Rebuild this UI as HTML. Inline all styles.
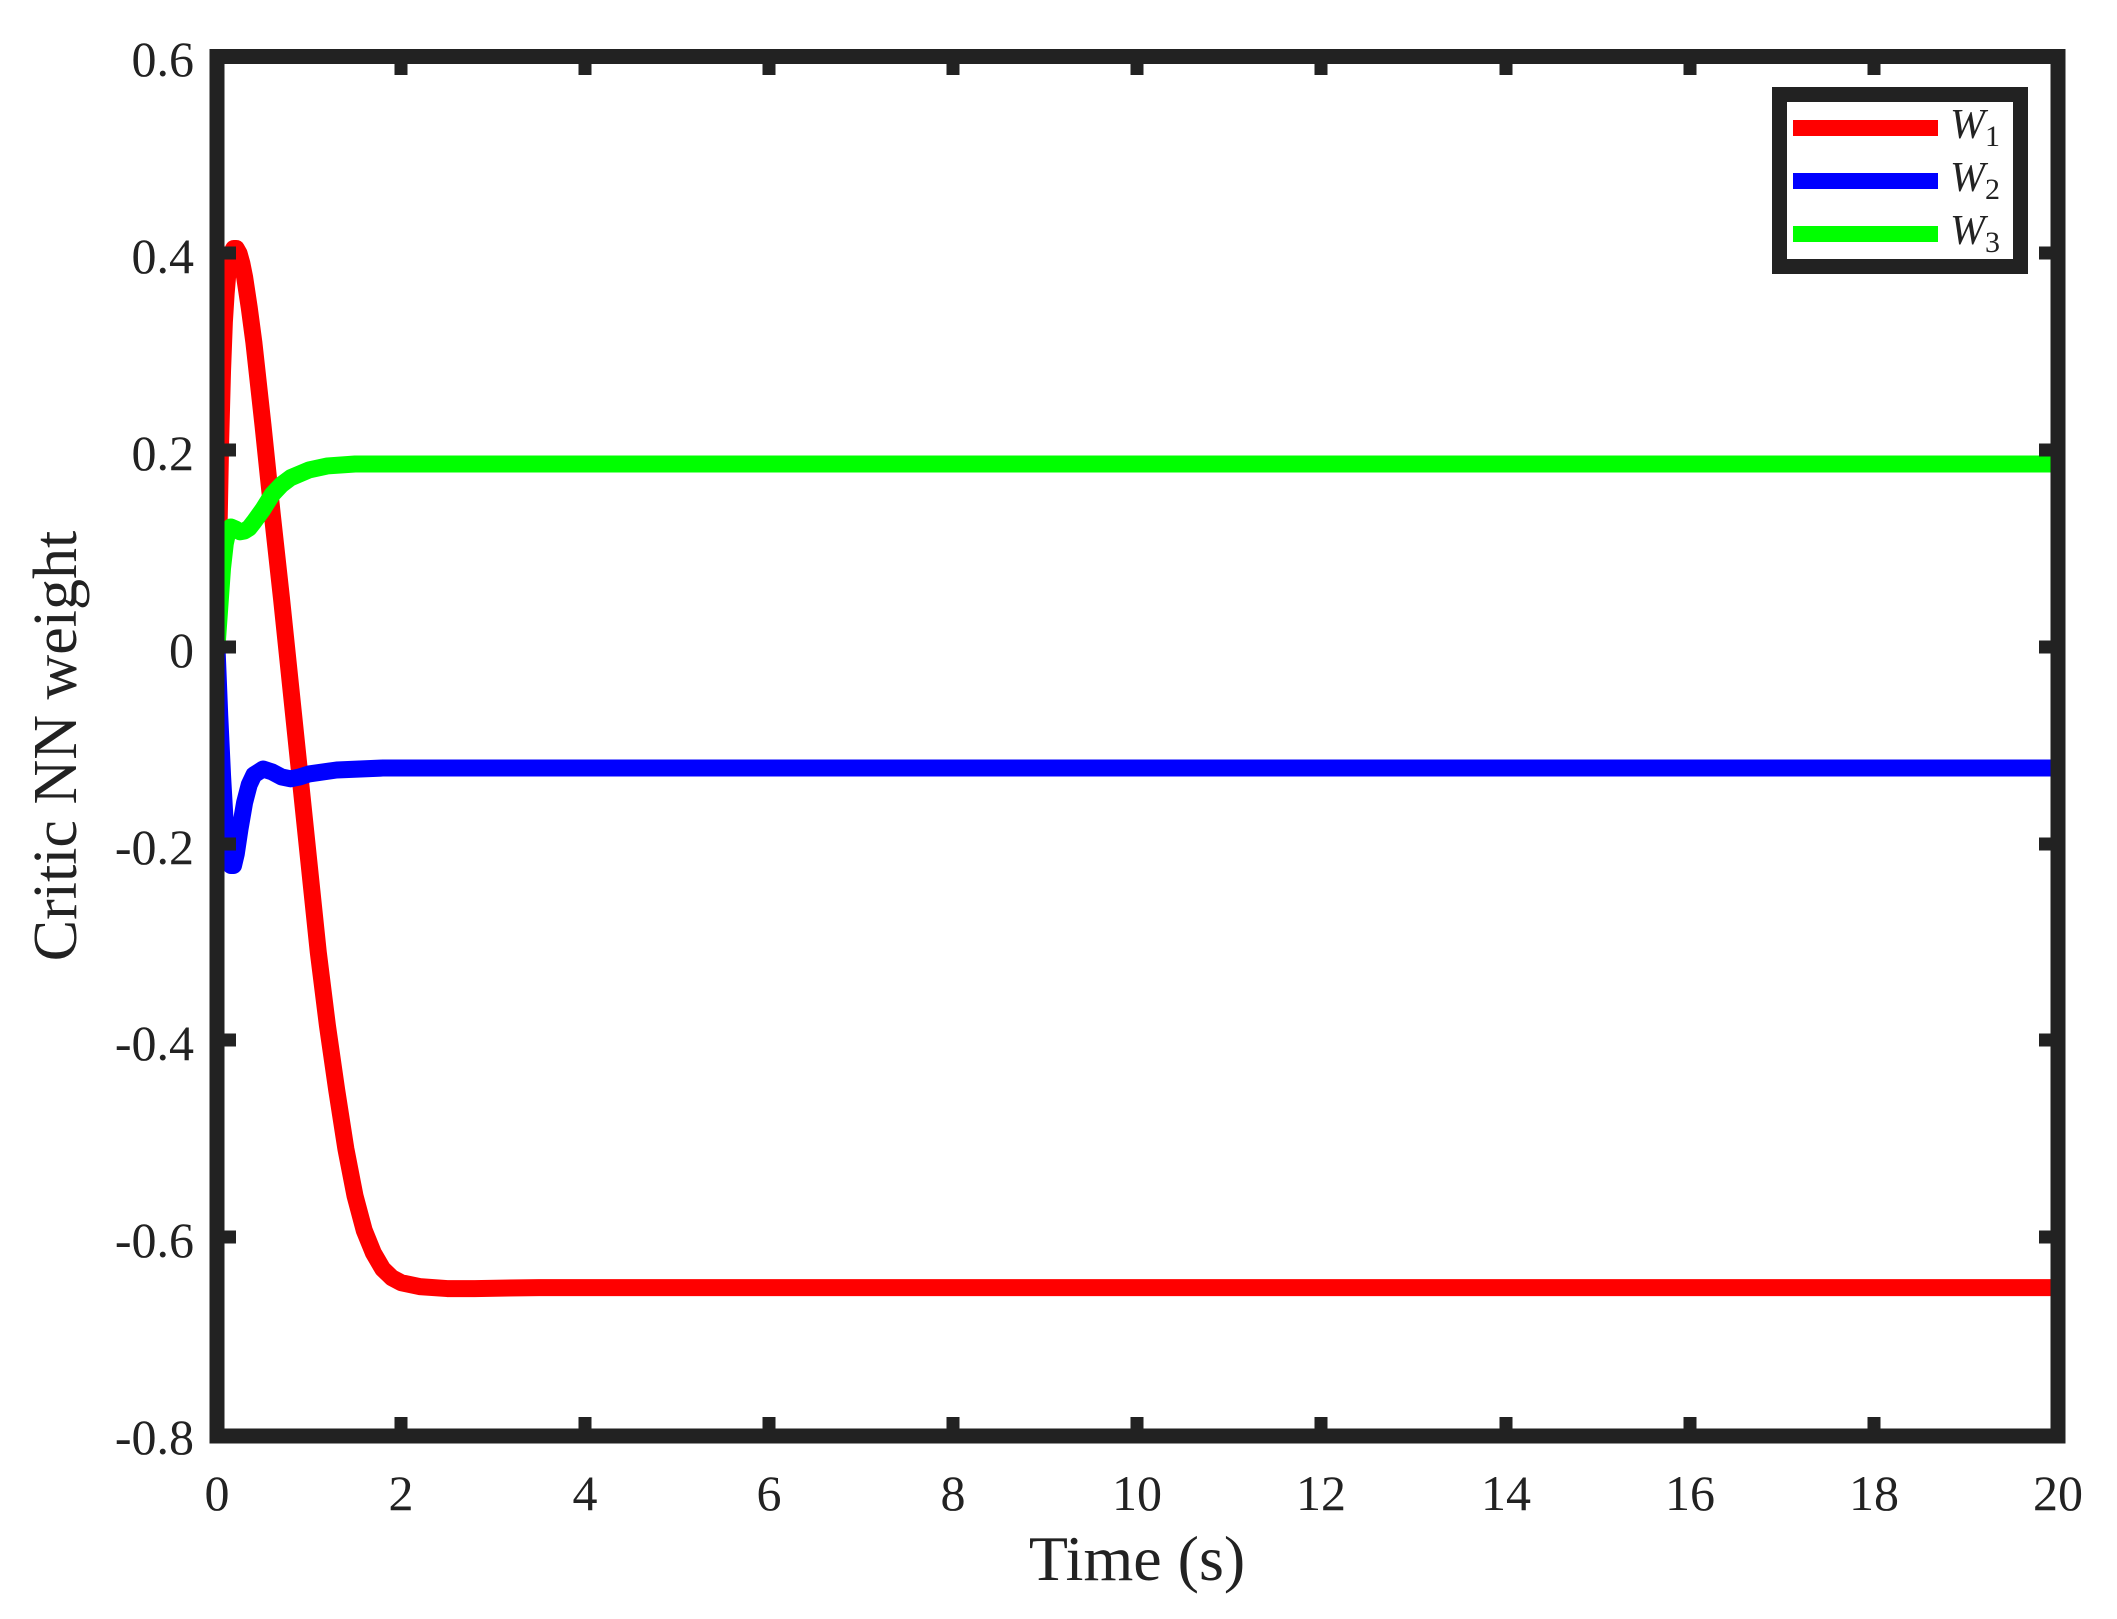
<!DOCTYPE html>
<html><head><style>
html,body{margin:0;padding:0;background:#fff;}
svg{display:block;}
text{font-family:"Liberation Serif",serif;fill:#222;}
</style></head><body>
<svg width="2117" height="1619" viewBox="0 0 2117 1619" xmlns="http://www.w3.org/2000/svg">
<defs><clipPath id="c"><rect x="217" y="56" width="1841" height="1380"/></clipPath></defs>
<g clip-path="url(#c)" fill="none" stroke-linejoin="round" stroke-linecap="round">
<g transform="matrix(92.05,0,0,-984,217,647)">
<polyline vector-effect="non-scaling-stroke" stroke="#ff0000" stroke-width="17" points="0,0 0.02,0.11 0.04,0.21 0.06,0.28 0.08,0.33 0.1,0.36 0.12,0.382 0.15,0.398 0.18,0.405 0.21,0.405 0.24,0.4 0.27,0.39 0.3,0.376 0.35,0.345 0.4,0.31 0.5,0.225 0.6,0.135 0.7,0.05 0.8,-0.04 0.9,-0.13 1.0,-0.22 1.1,-0.31 1.2,-0.385 1.3,-0.45 1.4,-0.51 1.5,-0.558 1.6,-0.593 1.7,-0.616 1.8,-0.632 1.9,-0.641 2.0,-0.646 2.2,-0.65 2.5,-0.652 2.8,-0.652 3.5,-0.651 20,-0.651"/>
<polyline vector-effect="non-scaling-stroke" stroke="#0000ff" stroke-width="17" points="0,0 0.03,-0.07 0.06,-0.13 0.09,-0.18 0.12,-0.21 0.15,-0.222 0.18,-0.222 0.21,-0.21 0.25,-0.185 0.3,-0.158 0.35,-0.14 0.4,-0.13 0.5,-0.124 0.6,-0.127 0.7,-0.132 0.8,-0.134 0.9,-0.132 1.0,-0.129 1.3,-0.125 1.8,-0.123 20,-0.123"/>
<polyline vector-effect="non-scaling-stroke" stroke="#00ff00" stroke-width="17" points="0,0 0.03,0.04 0.06,0.08 0.09,0.105 0.12,0.118 0.15,0.122 0.2,0.12 0.25,0.117 0.3,0.118 0.35,0.121 0.4,0.127 0.5,0.14 0.6,0.155 0.7,0.165 0.8,0.172 1.0,0.18 1.2,0.184 1.5,0.186 2,0.186 20,0.186"/>
</g></g>
<g stroke="#222" stroke-width="13" fill="none">
<path d="M401,56v19M585,56v19M769,56v19M953,56v19M1137,56v19M1321,56v19M1506,56v19M1690,56v19M1874,56v19M401,1436v-19M585,1436v-19M769,1436v-19M953,1436v-19M1137,1436v-19M1321,1436v-19M1506,1436v-19M1690,1436v-19M1874,1436v-19"/>
<path d="M217,253h19M217,450h19M217,647h19M217,844h19M217,1040h19M217,1237h19M2058,253h-19M2058,450h-19M2058,647h-19M2058,844h-19M2058,1040h-19M2058,1237h-19"/>
</g>
<rect x="217" y="56.5" width="1841" height="1379.5" fill="none" stroke="#222" stroke-width="15"/>
<g font-size="50" text-anchor="end">
<text x="194" y="76">0.6</text><text x="194" y="273">0.4</text><text x="194" y="470">0.2</text><text x="194" y="667">0</text><text x="194" y="864">-0.2</text><text x="194" y="1060">-0.4</text><text x="194" y="1257">-0.6</text><text x="194" y="1454">-0.8</text>
</g>
<g font-size="50" text-anchor="middle">
<text x="217" y="1510">0</text><text x="401" y="1510">2</text><text x="585" y="1510">4</text><text x="769" y="1510">6</text><text x="953" y="1510">8</text><text x="1137" y="1510">10</text><text x="1321" y="1510">12</text><text x="1506" y="1510">14</text><text x="1690" y="1510">16</text><text x="1874" y="1510">18</text><text x="2058" y="1510">20</text>
</g>
<text x="1137" y="1580" font-size="64" text-anchor="middle">Time (s)</text>
<text transform="translate(76,746) rotate(-90)" font-size="62" text-anchor="middle">Critic NN weight</text>
<rect x="1779.5" y="94.5" width="241" height="172" fill="#fff" stroke="#222" stroke-width="15"/>
<g stroke-width="16"><path d="M1793,128h145" stroke="#ff0000"/><path d="M1793,181h145" stroke="#0000ff"/><path d="M1793,234h145" stroke="#00ff00"/></g>
<g font-size="42" font-style="italic">
<text x="1950" y="138">W<tspan font-style="normal" font-size="30" dy="8">1</tspan></text>
<text x="1950" y="191">W<tspan font-style="normal" font-size="30" dy="8">2</tspan></text>
<text x="1950" y="244">W<tspan font-style="normal" font-size="30" dy="8">3</tspan></text>
</g>
</svg>
</body></html>
